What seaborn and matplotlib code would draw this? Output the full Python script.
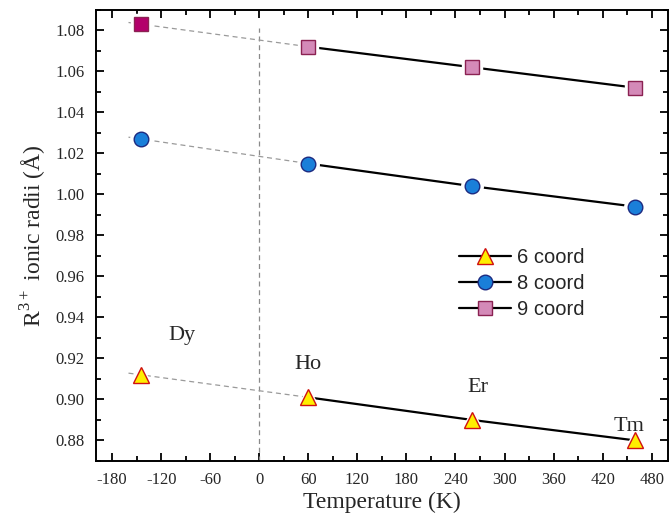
import numpy as np
import pandas as pd
import matplotlib
matplotlib.use("Agg")
import matplotlib.pyplot as plt
import seaborn as sns
from matplotlib.ticker import MultipleLocator, FormatStrFormatter

# ---- data ----
elements = ["Dy", "Ho", "Er", "Tm"]
temps = [-145, 60, 260, 460]
r6 = [0.912, 0.901, 0.890, 0.880]
r8 = [1.027, 1.015, 1.004, 0.994]
r9 = [1.083, 1.072, 1.062, 1.052]
series_labels = ["6 coord", "8 coord", "9 coord"]
label_pos_x = [-95, 60, 268, 452]
label_pos_y = [0.931, 0.917, 0.906, 0.887]

sns.set_theme(style="ticks")
plt.rcParams["font.family"] = ["Liberation Serif", "DejaVu Serif"]
plt.rcParams["mathtext.fontset"] = "custom"
plt.rcParams["mathtext.rm"] = "Liberation Serif"
plt.rcParams["axes.unicode_minus"] = False

fig = plt.figure(figsize=(6.7, 5.15), dpi=100)
ax = fig.add_axes([0.143, 0.105, 0.854, 0.876])

styles = [
    dict(marker="^", mfc="#FFEE00", mec="#D01010", ms=11.5, first_fc="#FFEE00"),
    dict(marker="o", mfc="#1A7FD9", mec="#1C2A80", ms=10.5, first_fc="#1A7FD9"),
    dict(marker="s", mfc="#D48AB8", mec="#8B2252", ms=9.5, first_fc="#B3006B"),
]
data = [r6, r8, r9]

handles = []
for r, st, lab in zip(data, styles, series_labels):
    # dashed extrapolation from first (Dy) point to Ho
    slope = (r[1] - r[0]) / (temps[1] - temps[0])
    x_ext = [temps[0] - 15, temps[1]]
    y_ext = [r[0] - slope * 15, r[1]]
    sns.lineplot(x=x_ext, y=y_ext, ax=ax, color="#9a9a9a", lw=0.9,
                 linestyle=(0, (4, 3)), zorder=2, legend=False)
    # solid line Ho -> Tm
    sns.lineplot(x=temps[1:], y=r[1:], ax=ax, color="black", lw=1.6,
                 zorder=2, legend=False)
    # white halo to create gaps
    ax.plot(temps, r, linestyle="none", marker=st["marker"], ms=st["ms"] + 5,
            mfc="white", mec="white", zorder=3)
    # markers
    ax.plot(temps[1:], r[1:], linestyle="none", marker=st["marker"], ms=st["ms"],
            mfc=st["mfc"], mec=st["mec"], mew=1.0, zorder=4)
    ax.plot(temps[:1], r[:1], linestyle="none", marker=st["marker"], ms=st["ms"],
            mfc=st["first_fc"], mec=st["mec"], mew=1.0, zorder=4)
    h, = ax.plot([], [], color="black", lw=1.6, marker=st["marker"],
                 ms=st["ms"], mfc=st["mfc"], mec=st["mec"], mew=1.0)
    handles.append(h)

# vertical dashed line at 0
ax.axvline(0, ymin=0, ymax=0.96, color="#8a8a8a", lw=0.9,
           linestyle=(0, (4, 3)), zorder=1)

for el, lx, ly in zip(elements, label_pos_x, label_pos_y):
    ax.text(lx, ly, el, fontsize=16, ha="center", va="center")

ax.set_xlim(-200, 500)
ax.set_ylim(0.87, 1.09)
ax.xaxis.set_major_locator(MultipleLocator(60))
ax.xaxis.set_minor_locator(MultipleLocator(30))
ax.yaxis.set_major_locator(MultipleLocator(0.02))
ax.yaxis.set_minor_locator(MultipleLocator(0.01))
ax.yaxis.set_major_formatter(FormatStrFormatter("%.2f"))
ax.set_xticks(np.arange(-180, 481, 60))

ax.tick_params(which="both", direction="in", top=True, right=True,
               labeltop=False, labelright=False, width=1.3, color="black")
ax.tick_params(which="major", length=6, labelsize=12, pad=8)
ax.tick_params(which="minor", length=3.5)
for sp in ax.spines.values():
    sp.set_linewidth(1.4)
    sp.set_color("black")

ax.set_xlabel("Temperature (K)", fontsize=17, labelpad=3)
ax.set_ylabel("R$^{\\mathrm{3+}}$ ionic radii (Å)", fontsize=17, labelpad=5)

leg = ax.legend(handles=handles, labels=series_labels, loc="upper left",
                bbox_to_anchor=(0.603, 0.513), frameon=False,
                prop={"family": "Liberation Sans", "size": 14.5},
                handlelength=2.6, handletextpad=0.3, labelspacing=0.35)

fig.savefig("out.png", dpi=100)
